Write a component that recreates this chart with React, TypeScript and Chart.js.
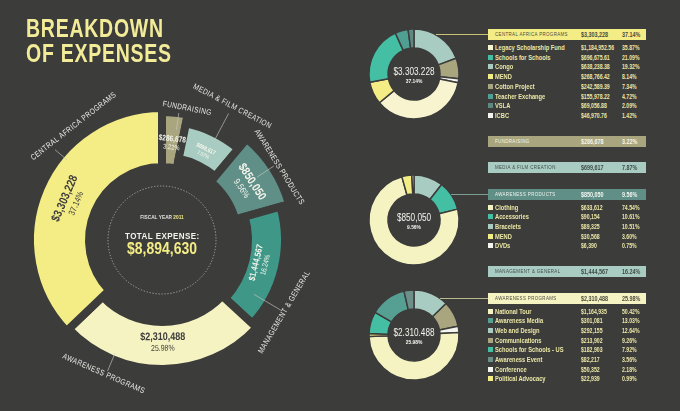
import React, { useEffect, useRef } from "react";
import { Chart, registerables } from "chart.js";

Chart.register(...registerables);

const BG = "#3c3c3b";
const FONT = "'Liberation Sans', Arial, sans-serif";
const NARROW = 0.82;

// ---------------- Main ring (drawn clockwise from 12 o'clock)
const mainCategories = [
  "FUNDRAISING",
  "MEDIA & FILM CREATION",
  "AWARENESS PRODUCTS",
  "MANAGEMENT & GENERAL",
  "AWARENESS PROGRAMS",
  "CENTRAL AFRICA PROGRAMS",
];
const mainAmounts = [286678, 699617, 850050, 1444567, 2310488, 3303228];
const mainAmountLabels = ["$286,678", "$699,617", "$850,050", "$1,444,567", "$2,310,488", "$3,303,228"];
const mainPercentLabels = ["3.22%", "7.87%", "9.56%", "16.24%", "25.98%", "37.14%"];
const totalLabel = "$8,894,630";
const fiscalYear = "2011";

// ---------------- Central Africa programs (table order)
const caLabels = ["Legacy Scholarship Fund", "Schools for Schools", "Congo", "MEND", "Cotton Project", "Teacher Exchange", "VSLA", "ICBC"];
const caAmounts = ["$1,184,952.56", "$696,675.61", "$638,238.38", "$268,766.42", "$242,589.39", "$155,978.22", "$69,056.88", "$46,970.76"];
const caPercents = [35.87, 21.09, 19.32, 8.14, 7.34, 4.72, 2.09, 1.42];
const caDonutOrder = [2, 4, 7, 0, 3, 1, 5, 6];

// ---------------- Awareness products
const apLabels = ["Clothing", "Accessories", "Bracelets", "MEND", "DVDs"];
const apAmounts = ["$633,612", "$90,154", "$89,325", "$30,568", "$6,390"];
const apPercents = [74.54, 10.61, 10.51, 3.6, 0.75];
const apDonutOrder = [2, 1, 0, 3, 4];

// ---------------- Awareness programs
const prLabels = ["National Tour", "Awareness Media", "Web and Design", "Communications", "Schools for Schools - US", "Awareness Event", "Conference", "Political Advocacy"];
const prAmounts = ["$1,164,935", "$301,081", "$292,155", "$213,902", "$182,903", "$82,217", "$50,352", "$22,939"];
const prPercents = [50.42, 13.03, 12.64, 9.26, 7.92, 3.56, 2.18, 0.99];
const prDonutOrder = [2, 3, 6, 0, 7, 4, 1, 5];

// table order of the sections (indices into main arrays)
const tableOrder = [5, 0, 1, 2, 3, 4];

// ---------------- styles
const C_YELLOW = "#f4ed86";
const C_CREAM = "#f6f3c3";
const C_OLIVE = "#a8a57f";
const C_LTEAL = "#a8ccc1";
const C_TEAL = "#45bfa4";
const C_WHITE = "#f5f5f0";

const mainColors = [C_OLIVE, C_LTEAL, "#5f8f87", "#3f9787", C_CREAM, C_YELLOW];
const mainInnerR = [77, 87, 80, 90, 86, 77];
const mainOuterR = [124, 115, 128, 119, 125, 128];
const mainValueColors = ["#f6f6ee", "#f6f6ee", "#f6f6ee", "#f6f6ee", "#3c3c3b", "#3c3c3b"];
const mainValueFont = [[8, 7], [6, 5.5], [12, 9], [9, 7.5], [11, 8.5], [12, 9]];
const labelAngleShift = [5, 2, 1, 17, 24, 29];
const lineAngleShift = [1.7, 2, -0.6, 17, 23, 17];
const lineRadii = [[111, 128], [108, 143], [114, 134], [107, 138], [123, 142], [124, 140]];
const labelRadius = [134, 151, 138, 142, 146, 144];
const GAP = 4;

const caColors = ["#f7f4cf", C_TEAL, C_LTEAL, C_YELLOW, C_OLIVE, "#4fa093", "#5e8983", C_WHITE];
const apColors = [C_CREAM, C_TEAL, C_LTEAL, C_YELLOW, C_WHITE];
const prColors = [C_CREAM, "#55a092", C_LTEAL, C_OLIVE, C_TEAL, "#6d8f8a", C_WHITE, C_YELLOW];

const headerBg = [C_YELLOW, C_OLIVE, C_LTEAL, "#5f8f87", C_LTEAL, C_CREAM];
const headerFg = ["#4a4a3c", "#f7f5e4", "#3f4c48", "#f2f5f0", "#3f4c48", "#4a4a3c"];
const headerTops = [29, 135.5, 161.5, 188.5, 266, 292.5];
const ROW_COLOR = "#ebe7a6";

const SMALL_R = 45;
const SMALL_CUT = 26;
const smallCenters = [[414, 74], [414, 220], [414, 335]];
const smallLineColors = ["#c9c27a", "#7c9c96", "#bdb98f"];

const deg = Math.PI / 180;

function tangentRotation(a: number) {
  let t = (a / deg + 90) % 360;
  if (t < 0) t += 360;
  let rot = t;
  if (t > 90 && t < 270) rot = t - 180;
  return rot * deg;
}

function narrowText(ctx: CanvasRenderingContext2D, text: string, x: number, y: number, k = NARROW) {
  ctx.save();
  ctx.translate(x, y);
  ctx.scale(k, 1);
  ctx.fillText(text, 0, 0);
  ctx.restore();
}

const mainPlugin = {
  id: "mainDecor",
  beforeDatasetsDraw(chart: any) {
    const arcs = chart.getDatasetMeta(0).data;
    arcs.forEach((arc: any, i: number) => {
      arc.innerRadius = mainInnerR[i] - GAP;
      arc.outerRadius = mainOuterR[i] + GAP;
    });
  },
  afterDatasetsDraw(chart: any) {
    const ctx = chart.ctx as CanvasRenderingContext2D;
    const arcs = chart.getDatasetMeta(0).data;
    const cx = arcs[0].x;
    const cy = arcs[0].y;
    arcs.forEach((arc: any, i: number) => {
      const mid = (arc.startAngle + arc.endAngle) / 2;
      // leader line
      const la = mid + lineAngleShift[i] * deg;
      const [r1, r2] = lineRadii[i];
      ctx.save();
      ctx.strokeStyle = "rgba(200,200,194,0.8)";
      ctx.lineWidth = 0.8;
      ctx.beginPath();
      ctx.moveTo(cx + r1 * Math.cos(la), cy + r1 * Math.sin(la));
      ctx.lineTo(cx + r2 * Math.cos(la), cy + r2 * Math.sin(la));
      ctx.stroke();
      ctx.restore();
      // category label
      const ta = mid + labelAngleShift[i] * deg;
      ctx.save();
      ctx.translate(cx + labelRadius[i] * Math.cos(ta), cy + labelRadius[i] * Math.sin(ta));
      ctx.rotate(tangentRotation(ta));
      ctx.font = `8px ${FONT}`;
      (ctx as any).letterSpacing = "0.5px";
      ctx.fillStyle = "#e8e8e2";
      ctx.textAlign = "center";
      ctx.textBaseline = "middle";
      narrowText(ctx, mainCategories[i], 0, 0);
      ctx.restore();
      // values
      const vr = (mainInnerR[i] + mainOuterR[i]) / 2 - 3;
      const [s1, s2] = mainValueFont[i];
      ctx.save();
      ctx.translate(cx + vr * Math.cos(mid), cy + vr * Math.sin(mid));
      ctx.rotate(tangentRotation(mid));
      ctx.fillStyle = mainValueColors[i];
      ctx.textAlign = "center";
      ctx.textBaseline = "middle";
      ctx.font = `bold ${s1}px ${FONT}`;
      narrowText(ctx, mainAmountLabels[i], 0, -s1 / 2);
      ctx.font = `${s2}px ${FONT}`;
      narrowText(ctx, mainPercentLabels[i], 0, s1 / 2 + 0.5);
      ctx.restore();
    });
  },
  afterDraw(chart: any) {
    const ctx = chart.ctx as CanvasRenderingContext2D;
    const arcs = chart.getDatasetMeta(0).data;
    const cx = arcs[0].x;
    const cy = arcs[0].y;
    ctx.save();
    // dashed inner circle
    ctx.strokeStyle = "#a5a5a0";
    ctx.lineWidth = 1;
    ctx.setLineDash([1.3, 1.7]);
    ctx.beginPath();
    ctx.arc(cx, cy, 54, 0, Math.PI * 2);
    ctx.stroke();
    ctx.setLineDash([]);
    // fiscal year
    ctx.textBaseline = "middle";
    ctx.font = `bold 5.8px ${FONT}`;
    const fy = "FISCAL YEAR ";
    const w1 = ctx.measureText(fy).width * NARROW;
    const w2 = ctx.measureText(fiscalYear).width * NARROW;
    ctx.textAlign = "left";
    ctx.fillStyle = "#e0e0da";
    narrowText(ctx, fy, cx - (w1 + w2) / 2, cy - 23);
    ctx.fillStyle = C_YELLOW;
    narrowText(ctx, fiscalYear, cx - (w1 + w2) / 2 + w1, cy - 23);
    // total
    ctx.textAlign = "center";
    ctx.fillStyle = "#f2f2ec";
    ctx.font = `bold 9.8px ${FONT}`;
    (ctx as any).letterSpacing = "0.5px";
    narrowText(ctx, "TOTAL EXPENSE:", cx + 0.3, cy - 4);
    (ctx as any).letterSpacing = "0px";
    ctx.fillStyle = C_YELLOW;
    ctx.font = `bold 17px ${FONT}`;
    narrowText(ctx, totalLabel, cx, cy + 9);
    // title
    ctx.textAlign = "left";
    ctx.textBaseline = "alphabetic";
    ctx.fillStyle = "#f2ec98";
    ctx.font = `bold 26px ${FONT}`;
    (ctx as any).letterSpacing = "1px";
    narrowText(ctx, "BREAKDOWN", 26, 37, 0.75);
    narrowText(ctx, "OF EXPENSES", 26, 62, 0.75);
    ctx.restore();
  },
};

function MainChart() {
  const ref = useRef<HTMLCanvasElement | null>(null);
  useEffect(() => {
    const chart = new Chart(ref.current as HTMLCanvasElement, {
      type: "doughnut",
      data: {
        labels: mainCategories,
        datasets: [
          {
            data: mainAmounts,
            backgroundColor: mainColors,
            borderColor: BG,
            borderWidth: GAP * 2,
            borderAlign: "center",
            borderJoinStyle: "miter",
          } as any,
        ],
      },
      options: {
        responsive: false,
        animation: false,
        events: [],
        layout: { padding: { left: 0, right: 16, top: 69, bottom: 0 } },
        plugins: { legend: { display: false }, tooltip: { enabled: false } },
      } as any,
      plugins: [mainPlugin as any],
    });
    return () => chart.destroy();
  }, []);
  return <canvas ref={ref} width={340} height={411} style={{ position: "absolute", left: 0, top: 0 }} />;
}

function SmallDonut(props: { idx: number; labels: string[]; values: number[]; colors: string[]; amount: string; pct: string }) {
  const ref = useRef<HTMLCanvasElement | null>(null);
  const [cx, cy] = smallCenters[props.idx];
  useEffect(() => {
    const center = {
      id: "center" + props.idx,
      afterDraw(chart: any) {
        const ctx = chart.ctx as CanvasRenderingContext2D;
        const arc = chart.getDatasetMeta(0).data[0];
        ctx.save();
        ctx.textAlign = "center";
        ctx.textBaseline = "middle";
        ctx.fillStyle = "#f4f4ee";
        ctx.font = `10px ${FONT}`;
        narrowText(ctx, props.amount, arc.x, arc.y - 2);
        ctx.font = `bold 6px ${FONT}`;
        narrowText(ctx, props.pct, arc.x, arc.y + 7.5);
        ctx.restore();
      },
    };
    const chart = new Chart(ref.current as HTMLCanvasElement, {
      type: "doughnut",
      data: {
        labels: props.labels,
        datasets: [
          {
            data: props.values,
            backgroundColor: props.colors,
            borderColor: BG,
            borderWidth: 1.5,
            radius: SMALL_R,
            cutout: `${(SMALL_CUT / SMALL_R) * 100}%`,
          } as any,
        ],
      },
      options: {
        responsive: false,
        animation: false,
        events: [],
        layout: { padding: 0 },
        plugins: { legend: { display: false }, tooltip: { enabled: false } },
      } as any,
      plugins: [center as any],
    });
    return () => chart.destroy();
  }, []);
  return <canvas ref={ref} width={100} height={100} style={{ position: "absolute", left: cx - 50, top: cy - 50 }} />;
}

const TABLE_LEFT = 488;
const TABLE_W = 158;
const BAR_H = 11;
const ROW_STEP = 9.7;

const narrowStyle: any = { display: "inline-block", transform: `scaleX(${NARROW})`, transformOrigin: "left center", whiteSpace: "nowrap" };

function Section(props: { order: number; rows?: { labels: string[]; amounts: string[]; pcts: number[]; colors: string[] } }) {
  const i = props.order;
  const m = tableOrder[i];
  const top = headerTops[i];
  const items: any[] = [];
  const cell: any = { position: "absolute", top: 0, height: BAR_H, lineHeight: BAR_H + "px", whiteSpace: "nowrap" };
  items.push(
    <div key="bar" style={{ position: "absolute", left: TABLE_LEFT, top, width: TABLE_W, height: BAR_H, background: headerBg[i], color: headerFg[i], fontFamily: FONT }}>
      <div style={{ ...cell, left: 7, fontSize: 5.4, letterSpacing: "0.45px" }}><span style={narrowStyle}>{mainCategories[m]}</span></div>
      <div style={{ ...cell, left: 93, fontSize: 6.6, fontWeight: "bold" }}><span style={narrowStyle}>{mainAmountLabels[m]}</span></div>
      <div style={{ ...cell, left: 134, fontSize: 6.6, fontWeight: "bold" }}><span style={narrowStyle}>{mainPercentLabels[m]}</span></div>
    </div>
  );
  if (props.rows) {
    const r = props.rows;
    r.labels.forEach((lab, k) => {
      const c = top + BAR_H + 7.5 + k * ROW_STEP;
      const txt: any = { position: "absolute", top: c - 4.5, height: 9, lineHeight: "9px", fontSize: 7, fontWeight: "bold", color: ROW_COLOR, fontFamily: FONT, whiteSpace: "nowrap" };
      items.push(<div key={"sq" + k} style={{ position: "absolute", left: TABLE_LEFT, top: c - 2.5, width: 5, height: 5, background: r.colors[k] }} />);
      items.push(<div key={"l" + k} style={{ ...txt, left: 495 }}><span style={narrowStyle}>{lab}</span></div>);
      items.push(<div key={"a" + k} style={{ ...txt, left: 581, fontSize: 6.3 }}><span style={narrowStyle}>{r.amounts[k]}</span></div>);
      items.push(<div key={"p" + k} style={{ ...txt, left: 622, fontSize: 6.3 }}><span style={narrowStyle}>{r.pcts[k].toFixed(2) + "%"}</span></div>);
    });
  }
  return <>{items}</>;
}

function LeaderLine(props: { idx: number; y: number }) {
  const [cx, cy] = smallCenters[props.idx];
  const dy = props.y - cy;
  const x0 = cx + Math.sqrt(SMALL_R * SMALL_R - dy * dy);
  return <div style={{ position: "absolute", left: x0, top: props.y - 0.5, width: TABLE_LEFT - x0, height: 1, background: smallLineColors[props.idx] }} />;
}

export default function App() {
  return (
    <div style={{ position: "fixed", left: 0, top: 0, width: 680, height: 411, background: BG, overflow: "hidden" }}>
      <MainChart />
      <SmallDonut
        idx={0}
        labels={caDonutOrder.map((k) => caLabels[k])}
        values={caDonutOrder.map((k) => caPercents[k])}
        colors={caDonutOrder.map((k) => caColors[k])}
        amount={mainAmountLabels[5].replace(/,/g, ".")}
        pct={mainPercentLabels[5]}
      />
      <SmallDonut
        idx={1}
        labels={apDonutOrder.map((k) => apLabels[k])}
        values={apDonutOrder.map((k) => apPercents[k])}
        colors={apDonutOrder.map((k) => apColors[k])}
        amount={mainAmountLabels[2]}
        pct={mainPercentLabels[2]}
      />
      <SmallDonut
        idx={2}
        labels={prDonutOrder.map((k) => prLabels[k])}
        values={prDonutOrder.map((k) => prPercents[k])}
        colors={prDonutOrder.map((k) => prColors[k])}
        amount={mainAmountLabels[4].replace(/,/g, ".")}
        pct={mainPercentLabels[4]}
      />
      <LeaderLine idx={0} y={headerTops[0] + BAR_H / 2} />
      <LeaderLine idx={1} y={headerTops[3] + BAR_H / 2} />
      <LeaderLine idx={2} y={headerTops[5] + BAR_H / 2} />
      <Section order={0} rows={{ labels: caLabels, amounts: caAmounts, pcts: caPercents, colors: caColors }} />
      <Section order={1} />
      <Section order={2} />
      <Section order={3} rows={{ labels: apLabels, amounts: apAmounts, pcts: apPercents, colors: apColors }} />
      <Section order={4} />
      <Section order={5} rows={{ labels: prLabels, amounts: prAmounts, pcts: prPercents, colors: prColors }} />
    </div>
  );
}
